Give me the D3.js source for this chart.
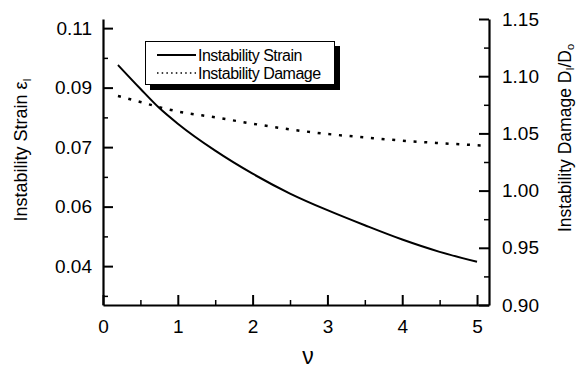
<!DOCTYPE html>
<html>
<head>
<meta charset="utf-8">
<script src="https://cdn.jsdelivr.net/npm/d3@7"></script>
<style>
  body { margin: 0; background: #fff; }
  svg text { font-family: "Liberation Sans", Arial, sans-serif; fill: #000; }
</style>
</head>
<body>
<script>
// ------------  DATA  ------------
const nuStrain = [0.2, 0.5, 0.75, 1, 1.5, 2, 2.5, 3, 3.5, 4, 4.5, 5];
const strainValues = [0.0957, 0.0897, 0.0849, 0.0809, 0.0741, 0.0683, 0.0633, 0.0591, 0.0553, 0.0517, 0.0486, 0.0461];

const nuDamage = [0.2, 0.5, 0.75, 1, 1.5, 2, 2.5, 3, 3.5, 4, 4.5, 5.1];
const damageValues = [1.0827, 1.0775, 1.0730, 1.0692, 1.0640, 1.0585, 1.0535, 1.0495, 1.0465, 1.0437, 1.0415, 1.0393];

const xTicks = [0, 1, 2, 3, 4, 5];
const leftTicks = [0.045, 0.06, 0.075, 0.09, 0.105];
const leftTickLabels = ["0.04", "0.06", "0.07", "0.09", "0.11"];
const rightTicks = [0.90, 0.95, 1.00, 1.05, 1.10, 1.15];

const legendLabels = ["Instability Strain", "Instability Damage"];

// ------------  PARAMETERS  ------------
const W = 578, H = 369;
const x0 = 103, x1 = 489, yTop = 19, yBot = 305;

const svg = d3.select("body").append("svg").attr("width", W).attr("height", H);

// ------------  SCALES  ------------
const x = d3.scaleLinear().domain([0, 5.16]).range([x0, x1]);
const yL = d3.scaleLinear().domain([0.0352, 0.1073]).range([yBot, yTop]);
const yR = d3.scaleLinear().domain([0.90, 1.15]).range([yBot, yTop]);

// ------------  AXES  ------------
function styleAxis(g, fs) {
  g.select(".domain").attr("stroke", "#000").attr("stroke-width", 2.2);
  g.selectAll(".tick line").attr("stroke", "#000").attr("stroke-width", 2);
  g.selectAll(".tick text").attr("font-size", fs).attr("fill", "#000");
}

// minor ticks first
svg.append("g").attr("transform", `translate(0,${yBot})`)
  .call(d3.axisBottom(x).tickValues([0.5, 1.5, 2.5, 3.5, 4.5]).tickSize(-5).tickFormat(""))
  .call(g => { g.select(".domain").remove(); g.selectAll("line").attr("stroke", "#000").attr("stroke-width", 1.5); });
svg.append("g").attr("transform", `translate(${x0},0)`)
  .call(d3.axisLeft(yL).tickValues([0.0375, 0.0525, 0.0675, 0.0825, 0.0975]).tickSize(-5).tickFormat(""))
  .call(g => { g.select(".domain").remove(); g.selectAll("line").attr("stroke", "#000").attr("stroke-width", 1.5); });
svg.append("g").attr("transform", `translate(${x1},0)`)
  .call(d3.axisRight(yR).tickValues([0.925, 0.975, 1.025, 1.075, 1.125]).tickSize(-5).tickFormat(""))
  .call(g => { g.select(".domain").remove(); g.selectAll("line").attr("stroke", "#000").attr("stroke-width", 1.5); });

svg.append("g").attr("transform", `translate(0,${yBot})`)
  .call(d3.axisBottom(x).tickValues(xTicks).tickSize(-10).tickSizeOuter(0).tickPadding(15).tickFormat(d3.format("d")))
  .call(g => styleAxis(g, 19));

svg.append("g").attr("transform", `translate(${x0},0)`)
  .call(d3.axisLeft(yL).tickValues(leftTicks).tickSize(-10).tickSizeOuter(0).tickPadding(11)
    .tickFormat((d, i) => leftTickLabels[i]))
  .call(g => styleAxis(g, 19));

svg.append("g").attr("transform", `translate(${x1},0)`)
  .call(d3.axisRight(yR).tickValues(rightTicks).tickSize(-10).tickSizeOuter(0).tickPadding(13)
    .tickFormat(d3.format(".2f")))
  .call(g => styleAxis(g, 19));

// ------------  AXIS TITLES  ------------
svg.append("text")
  .attr("x", 308).attr("y", 364)
  .attr("text-anchor", "middle").attr("font-size", 23)
  .text("ν");

const lt = svg.append("text")
  .attr("transform", "translate(27,150) rotate(-90)")
  .attr("text-anchor", "middle").attr("font-size", 18);
lt.append("tspan").text("Instability Strain ε");
lt.append("tspan").attr("font-size", 11).attr("dy", 4).text("I");

const rt = svg.append("text")
  .attr("transform", "translate(571,138) rotate(-90)")
  .attr("text-anchor", "middle").attr("font-size", 17.5);
rt.append("tspan").text("Instability Damage D");
rt.append("tspan").attr("font-size", 11).attr("dy", 3).text("I");
rt.append("tspan").attr("dy", -3).text("/D");
rt.append("tspan").attr("font-size", 11).attr("dy", 3).text("o");

// ------------  LINES  ------------
const strainLine = d3.line().x((d, i) => x(nuStrain[i])).y(d => yL(d)).curve(d3.curveMonotoneX);
svg.append("path").datum(strainValues)
  .attr("d", strainLine)
  .attr("fill", "none").attr("stroke", "#000").attr("stroke-width", 2);

const damageLine = d3.line().x((d, i) => x(nuDamage[i])).y(d => yR(d)).curve(d3.curveMonotoneX);
svg.append("path").datum(damageValues)
  .attr("d", damageLine)
  .attr("fill", "none").attr("stroke", "#000").attr("stroke-width", 2.5)
  .attr("stroke-dasharray", "3,7.7");

// ------------  LEGEND  ------------
const lg = svg.append("g");
lg.append("rect").attr("x", 150).attr("y", 46).attr("width", 190).attr("height", 44).attr("fill", "#000");
lg.append("rect").attr("x", 145.5).attr("y", 41.5).attr("width", 189).attr("height", 43)
  .attr("fill", "#fff").attr("stroke", "#000").attr("stroke-width", 1);

legendLabels.forEach((label, i) => {
  const ly = 55 + i * 18;
  lg.append("line").attr("x1", 157).attr("x2", 196).attr("y1", ly).attr("y2", ly)
    .attr("stroke", "#000")
    .attr("stroke-width", i === 0 ? 2 : 1.5)
    .attr("stroke-dasharray", i === 0 ? null : "1.5,3.2");
  lg.append("text").attr("x", 198).attr("y", ly + 5.5)
    .attr("font-size", 16).attr("letter-spacing", -0.5)
    .text(label);
});
</script>
</body>
</html>
